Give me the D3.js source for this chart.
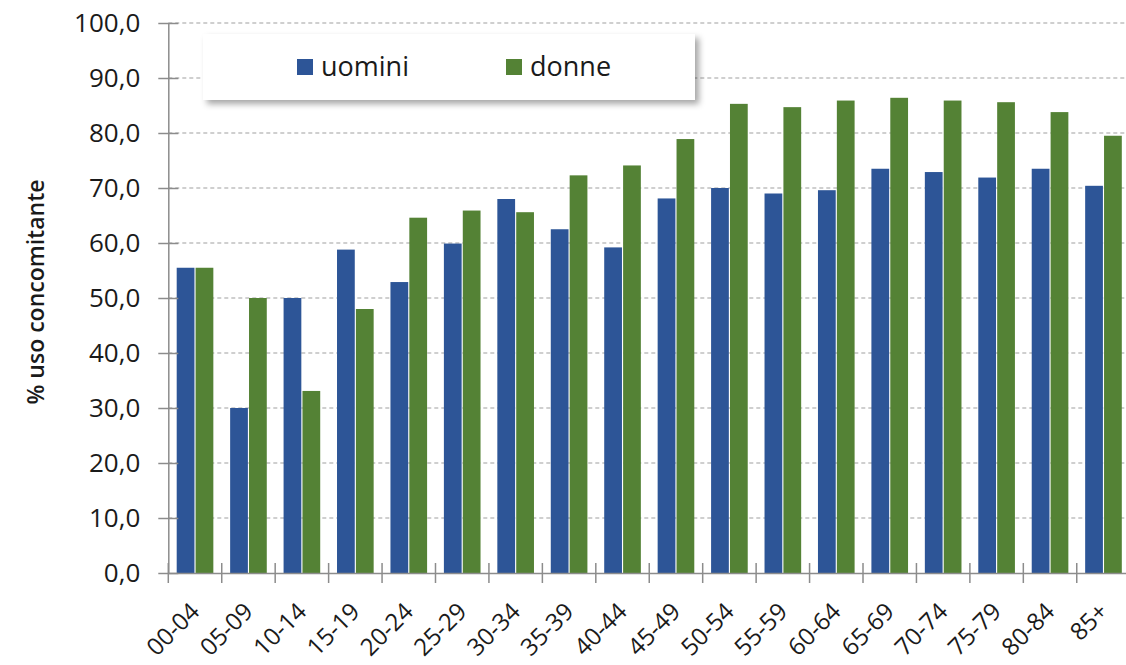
<!DOCTYPE html>
<html><head><meta charset="utf-8">
<script src="https://cdn.jsdelivr.net/npm/d3@7"></script>
<style>body{margin:0;background:#fff}svg{display:block}</style>
</head><body>
<svg id="chart" width="1126" height="665"></svg>
<script>
const categories = ["00-04","05-09","10-14","15-19","20-24","25-29","30-34","35-39","40-44","45-49","50-54","55-59","60-64","65-69","70-74","75-79","80-84","85+"];
const seriesNames = ["uomini","donne"];
const uomini = [55.5,30.0,50.0,58.8,52.9,59.9,68.0,62.5,59.2,68.1,70.0,69.0,69.6,73.5,72.9,71.9,73.5,70.4];
const donne  = [55.5,50.0,33.1,48.0,64.6,65.9,65.6,72.3,74.1,78.9,85.3,84.7,85.9,86.4,85.9,85.6,83.8,79.5];
const yTicks = [0,10,20,30,40,50,60,70,80,90,100];
const yLabel = "% uso concomitante";

(function(){
const colors = {uomini:"#2d5597", donne:"#548235"};
const font = "'Open Sans', sans-serif";
const svg = d3.select("#chart");

const pLeft = 168.3, pRight = 1130.2, pTop = 23, pBottom = 573;
const x = d3.scaleBand().domain(categories).range([pLeft, pRight]).padding(0);
const bw = x.bandwidth();
const x1 = d3.scaleBand().domain(seriesNames).range([8.4, bw - 8.4]).paddingInner(0.06);
const y = d3.scaleLinear().domain([0,100]).range([pBottom, pTop]);

// gridlines
svg.append("g").selectAll("line").data(yTicks.filter(d=>d>0)).join("line")
  .attr("x1", pLeft).attr("x2", 1126).attr("y1", d=>y(d)).attr("y2", d=>y(d))
  .attr("stroke", "#a0a0a0").attr("stroke-width", 1.2).attr("stroke-dasharray", "4,3");

// bars
const data = categories.map((c,i)=>({c, uomini:uomini[i], donne:donne[i]}));
const groups = svg.append("g").selectAll("g").data(data).join("g")
  .attr("transform", d=>`translate(${x(d.c)},0)`);
groups.selectAll("rect").data(d=>seriesNames.map(s=>({s, v:d[s]}))).join("rect")
  .attr("x", d=>x1(d.s)).attr("width", x1.bandwidth())
  .attr("y", d=>y(d.v)).attr("height", d=>y(0)-y(d.v))
  .attr("fill", d=>colors[d.s]);

// y axis
const yAxis = d3.axisLeft(y).tickValues(yTicks).tickSize(0).tickPadding(28)
  .tickFormat(d=>d3.format(".1f")(d).replace(".", ","));
const gy = svg.append("g").attr("transform", `translate(${pLeft},0)`).call(yAxis);
gy.select(".domain").attr("stroke", "#8c8c8c").attr("stroke-width", 1.5);
gy.selectAll("text").attr("font-family", font).attr("font-size", 26).attr("fill", "#1a1a1a");
gy.selectAll(".tick").append("line").attr("x1", -10).attr("x2", 10).attr("stroke", "#8c8c8c").attr("stroke-width", 1.5);

// x axis
const xAxis = d3.axisBottom(x).tickSize(0).tickFormat(d=>d);
const gx = svg.append("g").attr("transform", `translate(0,${pBottom})`).call(xAxis);
gx.select(".domain").attr("stroke", "#8c8c8c").attr("stroke-width", 1.5);
gx.selectAll(".tick text")
  .attr("font-family", font).attr("font-size", 24).attr("fill", "#1a1a1a")
  .attr("text-anchor", "end").attr("dy", 0).attr("y", 0)
  .attr("transform", "translate(6,40) rotate(-45)");
// category boundary ticks
svg.append("g").selectAll("line").data(categories.map(c=>x(c))).join("line")
  .attr("x1", d=>d).attr("x2", d=>d).attr("y1", pBottom-10).attr("y2", pBottom+10)
  .attr("stroke", "#8c8c8c").attr("stroke-width", 1.5);

// y label
svg.append("text").attr("transform", "translate(44,292) rotate(-90)")
  .attr("text-anchor", "middle").attr("font-family", font).attr("font-size", 23)
  .attr("font-weight", 600).attr("fill", "#1a1a1a").text(yLabel);

// legend
const defs = svg.append("defs");
const f = defs.append("filter").attr("id","sh").attr("x","-5%").attr("y","-20%").attr("width","115%").attr("height","150%");
f.append("feDropShadow").attr("dx",4).attr("dy",4).attr("stdDeviation",3).attr("flood-color","#000").attr("flood-opacity",0.35);
const lg = svg.append("g");
lg.append("rect").attr("x", 203).attr("y", 34).attr("width", 492).attr("height", 66)
  .attr("fill", "#fff").attr("filter", "url(#sh)");
const legX = d3.scaleOrdinal().domain(seriesNames).range([297, 506]);
const li = lg.selectAll("g.li").data(seriesNames).join("g").attr("class","li")
  .attr("transform", d=>`translate(${legX(d)},59)`);
li.append("rect").attr("width", 16).attr("height", 16).attr("fill", d=>colors[d]);
li.append("text").attr("x", 24).attr("y", 17).attr("font-family", font).attr("font-size", 27)
  .attr("fill", "#1a1a1a").text(d=>d);
})();
</script>
</body></html>
